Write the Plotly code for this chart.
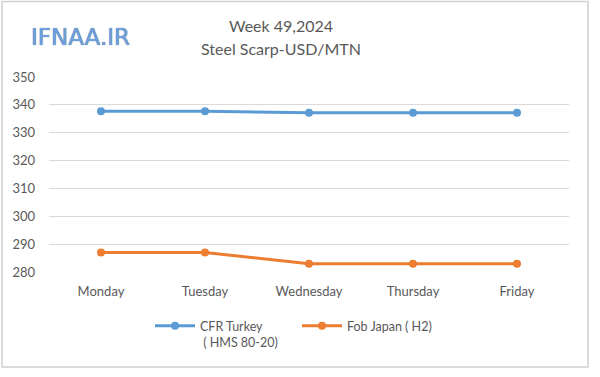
import plotly.graph_objects as go

days = ["Monday", "Tuesday", "Wednesday", "Thursday", "Friday"]
cfr_turkey = [337.7, 337.7, 337.2, 337.2, 337.2]
fob_japan = [287, 287, 283, 283, 283]
y_ticks = [280, 290, 300, 310, 320, 330, 340, 350]

W, H = 600, 377
L, R, T, B = 49, 31, 77, 105
pw, ph = W - L - R, H - T - B

def px(x):
    return (x - L) / pw

def py(y):
    return (H - B - y) / ph

FONT = "Lato, 'Open Sans', sans-serif"
GRAY = "#595959"

fig = go.Figure()
fig.add_trace(go.Scatter(
    x=days, y=cfr_turkey, mode="lines+markers",
    name="CFR Turkey<br> ( HMS 80-20)",
    line=dict(color="#5b9bd5", width=3),
    marker=dict(color="#5b9bd5", size=8),
))
fig.add_trace(go.Scatter(
    x=days, y=fob_japan, mode="lines+markers",
    name="Fob Japan ( H2)",
    line=dict(color="#ed7d31", width=3),
    marker=dict(color="#ed7d31", size=8),
))

fig.update_layout(
    width=W, height=H,
    margin=dict(l=L, r=R, t=T, b=B),
    paper_bgcolor="white", plot_bgcolor="white",
    font=dict(family=FONT, color=GRAY, size=12),
    showlegend=True,
    legend=dict(
        orientation="h", x=px(150), xanchor="left", y=py(311), yanchor="top",
        font=dict(family=FONT, color=GRAY, size=12.5),
        traceorder="normal", itemwidth=40, valign="top", entrywidth=92,
    ),
    xaxis=dict(
        type="category", range=[-0.5, 4.5], showgrid=False, zeroline=False,
        showline=False, ticks="", tickfont=dict(size=13, color=GRAY),
        ticklabelstandoff=10,
    ),
    yaxis=dict(
        range=[280, 350], tickvals=y_ticks, showgrid=True, gridcolor="#d9d9d9",
        gridwidth=1, zeroline=False, showline=False, ticks="",
        tickfont=dict(size=13, color=GRAY), ticklabelstandoff=13,
    ),
    annotations=[
        dict(text="Week 49,2024", x=px(281), y=py(25), xref="paper", yref="paper",
             xanchor="center", yanchor="middle",
             showarrow=False, font=dict(size=16, color=GRAY, family=FONT)),
        dict(text="Steel Scarp-USD/MTN", x=px(281), y=py(48), xref="paper", yref="paper",
             xanchor="center", yanchor="middle",
             showarrow=False, font=dict(size=16, color=GRAY, family=FONT)),
        dict(text="IFNAA.IR", x=px(80), y=py(37), xref="paper", yref="paper",
             xanchor="center", yanchor="middle",
             showarrow=False,
             font=dict(size=23, color="#6f9fdc", family="'DejaVu Sans', sans-serif",
                       shadow="0px 0px 1px #2f4f80")),
    ],
    shapes=[
        dict(type="rect", xref="paper", yref="paper",
             x0=px(2), x1=px(588), y0=py(367), y1=py(1.5),
             line=dict(color="#d0d0d0", width=1.5), fillcolor="rgba(0,0,0,0)", layer="below"),
    ],
)

fig.write_html("out.html", config={"displayModeBar": False},
               post_script="document.body.style.margin='0';document.body.style.padding='0';")
